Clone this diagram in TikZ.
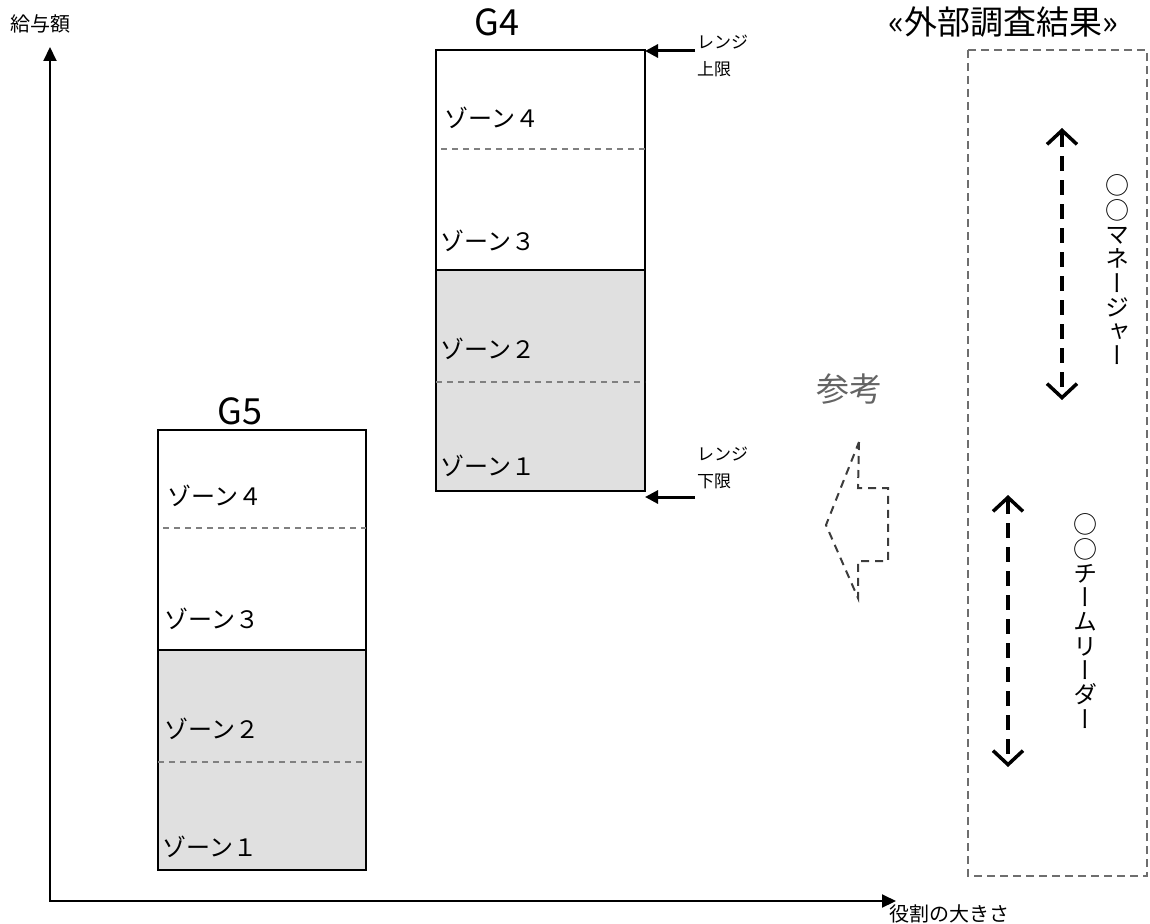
\documentclass[tikz,border=0pt]{standalone}
\usepackage{fontspec}
\setmainfont{Noto Sans CJK JP}
\newfontfamily\vjp[RawFeature=+vert]{Noto Sans CJK JP}
\usetikzlibrary{arrows.meta}
\definecolor{zonegray}{RGB}{224,224,224}
\definecolor{sepgray}{RGB}{128,128,128}
\definecolor{rectgray}{RGB}{110,110,110}
\definecolor{hintgray}{RGB}{60,60,60}
\definecolor{refgray}{RGB}{100,100,100}
\begin{document}
\begin{tikzpicture}[x=1pt,y=-1pt,
  zone/.style={anchor=west,font=\fontsize{24}{28}\selectfont,inner sep=0pt},
  gtitle/.style={font=\fontsize{36}{38}\selectfont,inner sep=0pt},
  boxline/.style={draw=black,line width=1.3pt},
  zonesep/.style={draw=sepgray,line width=1.6pt,dash pattern=on 6pt off 5pt},
  rangearrow/.style={line width=3pt,-{Triangle[length=13pt,width=13pt]}},
  rangelab/.style={anchor=west,align=left,font=\fontsize{17}{27}\selectfont,inner sep=0pt},
  axis/.style={line width=2pt,{Triangle[length=14pt,width=13pt]}-{Triangle[length=14pt,width=13pt]}},
  axlab/.style={font=\fontsize{20}{22}\selectfont,inner sep=0pt},
  vtext/.style={align=center,font=\vjp\fontsize{24}{24.3}\selectfont,inner sep=0pt},
  dbl/.style={line width=4pt,dash pattern=on 15pt off 9pt,
    {Straight Barb[length=14pt,width=30pt,line width=3.5pt]}-{Straight Barb[length=14pt,width=30pt,line width=3.5pt]}},
  hint/.style={draw=hintgray,line width=2pt,dash pattern=on 8pt off 6pt},
  extrect/.style={draw=rectgray,line width=1.6pt,dash pattern=on 8pt off 5pt}]
\useasboundingbox (0,0) rectangle (1150,923);

% axes
\coordinate (ytip) at (50,47);
\coordinate (xtip) at (896,901);
\draw[axis] (ytip) |- (xtip);
\node[axlab] (ylab) at (40,24) {給与額};
\node[axlab,anchor=west] (xlab) at (889,914) {役割の大きさ};

% G5 box
\fill[zonegray] (158,650) rectangle (366,870);
\draw[boxline] (158,430) rectangle (366,870);
\draw[boxline] (158,650) -- (366,650);
\draw[zonesep] (163,528) -- (366,528);
\draw[zonesep] (158,762) -- (366,762);
\node[gtitle] (g5t) at (240,411) {G5};
\node[zone] (g5z4) at (167,496) {ゾーン４};
\node[zone] (g5z3) at (164,619) {ゾーン３};
\node[zone] (g5z2) at (164,729) {ゾーン２};
\node[zone] (g5z1) at (162,847) {ゾーン１};

% G4 box
\fill[zonegray] (436,270) rectangle (645,491);
\draw[boxline] (436,50) rectangle (645,491);
\draw[boxline] (436,270) -- (645,270);
\draw[zonesep] (441,149) -- (645,149);
\draw[zonesep] (436,382) -- (645,382);
\node[gtitle] (g4t) at (497,22) {G4};
\node[zone] (g4z4) at (444,118) {ゾーン４};
\node[zone] (g4z3) at (440,241) {ゾーン３};
\node[zone] (g4z2) at (440,349) {ゾーン２};
\node[zone] (g4z1) at (440,466) {ゾーン１};

% range labels
\coordinate (ru0) at (695,51);
\coordinate (ru1) at (645,51);
\draw[rangearrow] (ru0) -- (ru1);
\node[rangelab] (rul) at (697,56) {レンジ\\上限};
\coordinate (rl0) at (695,497);
\coordinate (rl1) at (645,497);
\draw[rangearrow] (rl0) -- (rl1);
\node[rangelab] (rll) at (697,468) {レンジ\\下限};

% reference
\node[font=\fontsize{33}{35}\selectfont,text=refgray,inner sep=0pt] (ref) at (849,389) {参考};
\draw[hint] (859,442) -- (858,488) -- (888,488) -- (888,561) -- (858,561) -- (858,598) -- (826,525) -- cycle;

% external survey
\node[font=\fontsize{33}{35}\selectfont,inner sep=0pt] (ext) at (1003,22) {«外部調査結果»};
\draw[extrect] (968,50) rectangle (1147,876);
\coordinate (m1) at (1062,128);
\coordinate (m2) at (1062,400);
\draw[dbl] (m1) -- (m2);
\coordinate (t1) at (1008,495);
\coordinate (t2) at (1008,767);
\draw[dbl] (t1) -- (t2);
\node[vtext] (mgr) at (1117,270) {○\\○\\マ\\ネ\\ー\\ジ\\ャ\\ー};
\node[vtext] (tl) at (1085,621) {○\\○\\チ\\ー\\ム\\リ\\ー\\ダ\\ー};
\end{tikzpicture}
\end{document}
